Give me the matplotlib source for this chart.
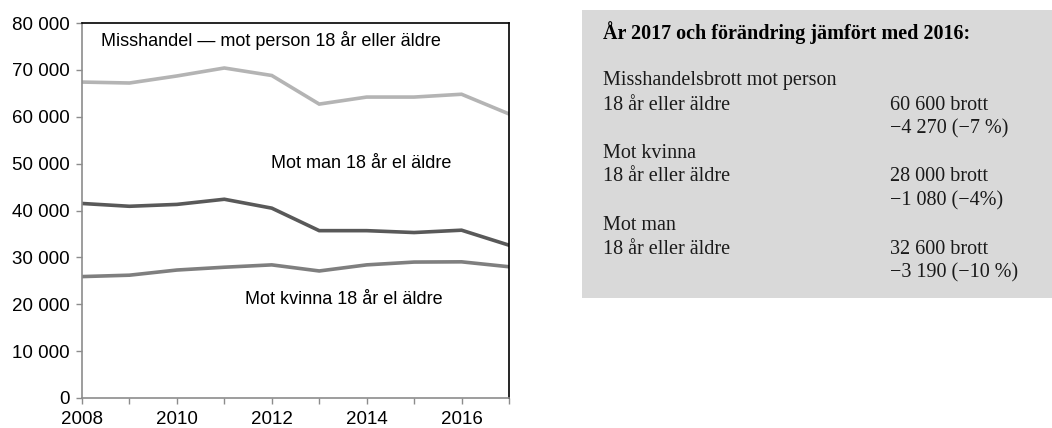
import numpy as np
import matplotlib.pyplot as plt
from matplotlib.patches import Rectangle

plt.rcParams['font.family'] = ['Liberation Sans', 'DejaVu Sans']

# Data
years = [2008, 2009, 2010, 2011, 2012, 2013, 2014, 2015, 2016, 2017]
person = [67400, 67200, 68700, 70400, 68800, 62700, 64200, 64200, 64800, 60600]
man = [41500, 40900, 41300, 42400, 40500, 35700, 35700, 35300, 35800, 32600]
kvinna = [25900, 26200, 27300, 27900, 28400, 27100, 28400, 29000, 29050, 28000]
yticks = [0, 10000, 20000, 30000, 40000, 50000, 60000, 70000, 80000]
xticks = [2008, 2010, 2012, 2014, 2016]

fig = plt.figure(figsize=(10.52, 4.28), dpi=100)
ax = fig.add_axes([82/1052, 1 - 398/428, (509 - 82)/1052, (398 - 23)/428])

ax.plot(years, person, color="#b4b4b4", lw=2.6, solid_joinstyle="miter")
ax.plot(years, man, color="#595959", lw=2.6, solid_joinstyle="miter")
ax.plot(years, kvinna, color="#7f7f7f", lw=2.6, solid_joinstyle="miter")

ax.set_xlim(2008, 2017)
ax.set_ylim(0, 80000)
ax.set_yticks(yticks)
ax.set_yticklabels([f"{v:,}".replace(",", " ") for v in yticks], fontsize=13.5)
ax.set_xticks(xticks)
ax.set_xticklabels([str(v) for v in xticks], fontsize=13.5)
ax.set_xticks(years, minor=True)
ax.tick_params(axis="both", which="both", color="#8c8c8c", length=4, width=1)
ax.tick_params(axis="x", pad=5)
ax.tick_params(axis="y", pad=5)
for side in ["left", "bottom"]:
    ax.spines[side].set_color("#8c8c8c")
    ax.spines[side].set_linewidth(1.2)
for side in ["top", "right"]:
    ax.spines[side].set_color("black")
    ax.spines[side].set_linewidth(1.2)

ax.text(2008.4, 76300, "Misshandel \u2014 mot person 18 år eller äldre", fontsize=13, va="center")
ax.text(2011.98, 50100, "Mot man 18 år el äldre", fontsize=13, va="center")
ax.text(2011.44, 21000, "Mot kvinna 18 år el äldre", fontsize=13, va="center")

# Info box on the right
fig.patches.append(Rectangle((582/1052, 1 - 298/428), (1052 - 582)/1052, 288/428,
                             transform=fig.transFigure, facecolor="#d9d9d9",
                             edgecolor="none"))
serif = ['Liberation Serif', 'DejaVu Serif']
x1 = 603/1052
x2 = 890/1052
fig.text(x1, 1 - 33/428, "År 2017 och förändring jämfört med 2016:", family=serif,
         fontsize=14.5, fontweight="bold", va="center")
left_lines = [(81, "Misshandelsbrott mot person"), (105, "18 år eller äldre"),
              (153, "Mot kvinna"), (177, "18 år eller äldre"),
              (225, "Mot man"), (249, "18 år eller äldre")]
right_lines = [(105, "60 600 brott"), (129, "\u22124 270 (\u22127 %)"),
               (177, "28 000 brott"), (201, "\u22121 080 (\u22124%)"),
               (249, "32 600 brott"), (273, "\u22123 190 (\u221210 %)")]
for y, s in left_lines:
    fig.text(x1, 1 - y/428, s, family=serif, fontsize=14.5, va="center", color="#1a1a1a")
for y, s in right_lines:
    fig.text(x2, 1 - y/428, s, family=serif, fontsize=14.5, va="center", color="#1a1a1a")

fig.savefig("out.png", dpi=100)
